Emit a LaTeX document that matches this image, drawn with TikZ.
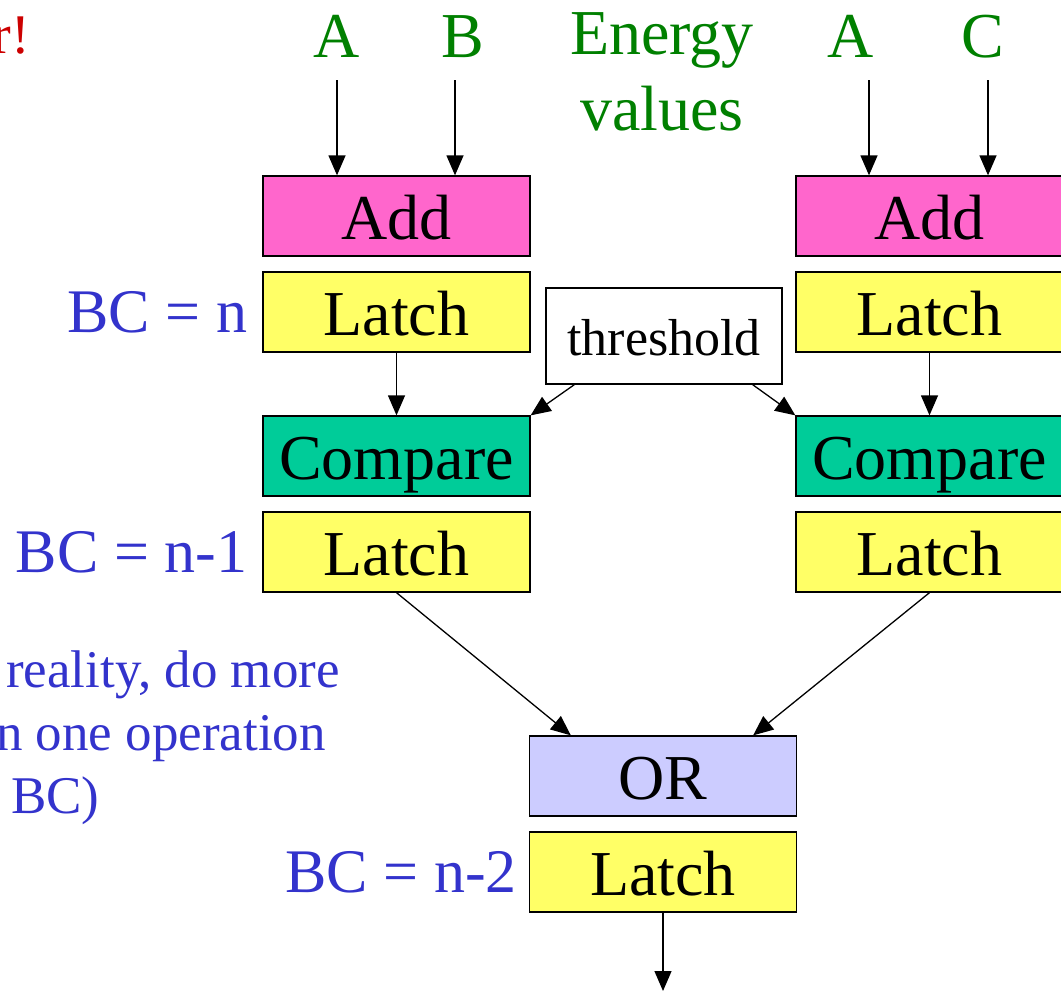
\documentclass[tikz,border=0pt]{standalone}
\usepackage{fontspec}
\setmainfont{Liberation Serif}
\usetikzlibrary{arrows.meta,positioning}

\definecolor{addpink}{HTML}{FF66CC}
\definecolor{latchyellow}{HTML}{FFFF66}
\definecolor{cmpgreen}{HTML}{00CC99}
\definecolor{orblue}{HTML}{CCCCFF}
\definecolor{txtgreen}{HTML}{008000}
\definecolor{txtblue}{HTML}{3333CC}
\definecolor{txtred}{HTML}{CC0000}

\begin{document}
\begin{tikzpicture}[x=1pt,y=-1pt,
        blk/.style={draw,line width=1.3pt,minimum width=267pt,minimum height=80pt,
            inner sep=0pt,text height=46pt,text depth=0pt,font=\fontsize{64}{70}\selectfont},
        addblk/.style={blk,fill=addpink},
        latchblk/.style={blk,fill=latchyellow},
        cmpblk/.style={blk,fill=cmpgreen},
        orblk/.style={blk,fill=orblue},
        inlbl/.style={text=txtgreen,inner sep=0pt,font=\fontsize{64}{76}\selectfont},
        bclbl/.style={text=txtblue,inner sep=0pt,font=\fontsize{62}{70}\selectfont},
        note/.style={text=txtblue,inner sep=0pt,anchor=base west,font=\fontsize{53}{63}\selectfont},
        arr/.style={-{Triangle[length=20pt,width=17pt]},line width=1.3pt}
    ]
    \clip (0,0) rectangle (1061,991);

    % left column
    \node[addblk]   (addL)    at (396.5,216) {Add};
    \node[latchblk] (latchLa) at (396.5,312) {Latch};
    \node[cmpblk]   (cmpL)    at (396.5,456) {Compare};
    \node[latchblk] (latchLb) at (396.5,552) {Latch};

    % right column
    \node[addblk]   (addR)    at (929.5,216) {Add};
    \node[latchblk] (latchRa) at (929.5,312) {Latch};
    \node[cmpblk]   (cmpR)    at (929.5,456) {Compare};
    \node[latchblk] (latchRb) at (929.5,552) {Latch};

    % middle
    \node[draw,fill=white,line width=1.3pt,minimum width=236pt,minimum height=96pt,
        inner sep=0pt,text height=38pt,text depth=0pt,font=\fontsize{52}{60}\selectfont]
        (thr) at (664,336) {threshold};
    \node[orblk]    (orgate)  at (663,776) {OR};
    \node[latchblk] (latchC)  at (663,872) {Latch};
    \coordinate (out) at (663,991);

    % inputs
    \node[inlbl,anchor=base] (inAL) at (337,57) {A};
    \node[inlbl,anchor=base] (inB)  at (463,57) {B};
    \node[inlbl,anchor=base] (inAR) at (851,57) {A};
    \node[inlbl,anchor=base] (inC)  at (983,57) {C};
    \node[inlbl,align=center,anchor=north] (energy) at (662,12) {Energy\\values};

    \coordinate (tAL) at (337,80);
    \coordinate (tB)  at (455,80);
    \coordinate (tAR) at (869,80);
    \coordinate (tC)  at (988,80);
    \draw[arr] (tAL) -- (tAL |- addL.north);
    \draw[arr] (tB)  -- (tB |- addL.north);
    \draw[arr] (tAR) -- (tAR |- addR.north);
    \draw[arr] (tC)  -- (tC |- addR.north);

    % bunch crossing labels
    \node[bclbl,left=15pt of latchLa] (bcn)  {BC = n};
    \node[bclbl,left=15pt of latchLb] (bcn1) {BC = n-1};
    \node[bclbl,left=12pt of latchC]  (bcn2) {BC = n-2};

    % side notes
    \node[text=txtred,inner sep=0pt,anchor=base east,font=\fontsize{56}{63}\selectfont]
        (warn) at (30,53) {r!};
    \node[note] (noteA) at (6,687) {reality, do more};
    \node[note] (noteB) at (-4,750) {n one operation};
    \node[note] (noteC) at (11,813) {BC)};

    % data flow
    \draw[arr] (latchLa) -- (cmpL);
    \draw[arr] (latchRa) -- (cmpR);
    \draw[arr] ([xshift=29pt]thr.south west) -- (cmpL.north east);
    \draw[arr] ([xshift=-30pt]thr.south east) -- (cmpR.north west);
    \draw[arr] (latchLb.south) -- ([xshift=42pt]orgate.north west);
    \draw[arr] (latchRb.south) -- ([xshift=-44pt]orgate.north east);
    \draw[arr] (latchC) -- (out);
\end{tikzpicture}
\end{document}
